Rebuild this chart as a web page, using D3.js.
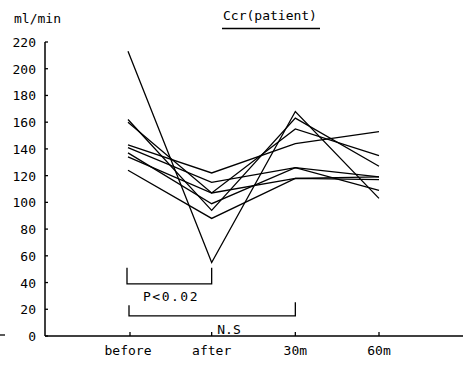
<!DOCTYPE html>
<html>
<head>
<meta charset="utf-8">
<script src="https://cdn.jsdelivr.net/npm/d3@7"></script>
<style>
  body { margin: 0; background: #fff; }
  text { font-family: "DejaVu Sans Mono", "Liberation Mono", monospace; fill: #000; }
</style>
</head>
<body>
<script>
/* Chart data */
var times = ['before', 'after', '30m', '60m'];
var yTicks = [0, 20, 40, 60, 80, 100, 120, 140, 160, 180, 200, 220];
var patient1 = [213, 55, 168, 103];
var patient2 = [162, 94, 163, 127];
var patient3 = [160, 107, 155, 135];
var patient4 = [143, 122, 144, 153];
var patient5 = [141, 115, 126, 119];
var patient6 = [137, 99, 126, 109];
var patient7 = [134, 107, 118, 117];
var patient8 = [124, 88, 118, 119];
var patients = [patient1, patient2, patient3, patient4,
                patient5, patient6, patient7, patient8];

/* Significance brackets: [from, to, top, bottom, label] */
var brackets = [
    ['before', 'after', 51, 39, 'P<0.02'],
    ['before', '30m', 23, 15, 'N.S']
];

var width = 463, height = 370;

var svg = d3.select('body')
    .append('svg')
    .attr('width', width)
    .attr('height', height);

/* Scales */
var x = d3.scalePoint()
    .domain(times)
    .range([128, 379]);

var y = d3.scaleLinear()
    .domain([0, 220])
    .range([336, 42]);

var axisX = 45;

/* Title and unit */
svg.append('text')
    .attr('x', 270)
    .attr('y', 20)
    .attr('text-anchor', 'middle')
    .style('font-size', '13px')
    .text('Ccr(patient)');
svg.append('line')
    .attr('x1', 222).attr('x2', 320)
    .attr('y1', 28.5).attr('y2', 28.5)
    .attr('stroke', '#000').attr('stroke-width', 1.3);

svg.append('text')
    .attr('x', 14)
    .attr('y', 23)
    .style('font-size', '13px')
    .text('ml/min');

/* Y axis with inward ticks */
svg.append('line')
    .attr('x1', axisX).attr('x2', axisX)
    .attr('y1', y(0)).attr('y2', y(220))
    .attr('stroke', '#000').attr('stroke-width', 1.5);

svg.selectAll('.ytick')
    .data(yTicks)
    .enter()
    .append('line')
    .attr('x1', axisX).attr('x2', axisX + 3)
    .attr('y1', function (d) { return y(d); })
    .attr('y2', function (d) { return y(d); })
    .attr('stroke', '#000').attr('stroke-width', 1.3);

svg.selectAll('.ylabel')
    .data(yTicks)
    .enter()
    .append('text')
    .attr('x', 36)
    .attr('y', function (d) { return y(d) + 5; })
    .attr('text-anchor', 'end')
    .style('font-size', '13px')
    .text(function (d) { return d; });

/* X axis */
svg.append('line')
    .attr('x1', axisX).attr('x2', width)
    .attr('y1', y(0)).attr('y2', y(0))
    .attr('stroke', '#000').attr('stroke-width', 1.3);
svg.append('line')
    .attr('x1', 0).attr('x2', 5)
    .attr('y1', y(0) - 1).attr('y2', y(0) - 1)
    .attr('stroke', '#000').attr('stroke-width', 1.3);

svg.selectAll('.xtick')
    .data(times)
    .enter()
    .append('line')
    .attr('x1', function (d) { return x(d) + (d === 'before' ? 2 : 0); })
    .attr('x2', function (d) { return x(d) + (d === 'before' ? 2 : 0); })
    .attr('y1', y(0)).attr('y2', y(0) - 4)
    .attr('stroke', '#000').attr('stroke-width', 1.3);

svg.selectAll('.xlabel')
    .data(times)
    .enter()
    .append('text')
    .attr('x', function (d) { return x(d); })
    .attr('y', 355)
    .attr('text-anchor', 'middle')
    .style('font-size', '13px')
    .text(function (d) { return d; });

/* Patient lines */
var line = d3.line()
    .x(function (d, i) { return x(times[i]); })
    .y(function (d) { return y(d); });

svg.selectAll('.patient')
    .data(patients)
    .enter()
    .append('path')
    .attr('d', line)
    .attr('fill', 'none')
    .attr('stroke', '#000')
    .attr('stroke-width', 1.3);

/* Brackets */
brackets.forEach(function (b, i) {
    var x1 = x(b[0]) - 1 + i * 2, x2 = x(b[1]);
    svg.append('path')
        .attr('d', 'M' + x1 + ',' + y(b[2]) + 'V' + y(b[3]) +
              'H' + x2 + 'V' + (y(b[2]) - (i ? 3 : 0)))
        .attr('fill', 'none')
        .attr('stroke', '#000')
        .attr('stroke-width', 1.3);
    svg.append('text')
        .attr('x', i ? 229 : 171)
        .attr('y', y(b[3]) + (i ? 18 : 17))
        .attr('text-anchor', 'middle')
        .style('font-size', '13px')
        .style('letter-spacing', i ? '0px' : '1.5px')
        .text(b[4]);
});
</script>
</body>
</html>
